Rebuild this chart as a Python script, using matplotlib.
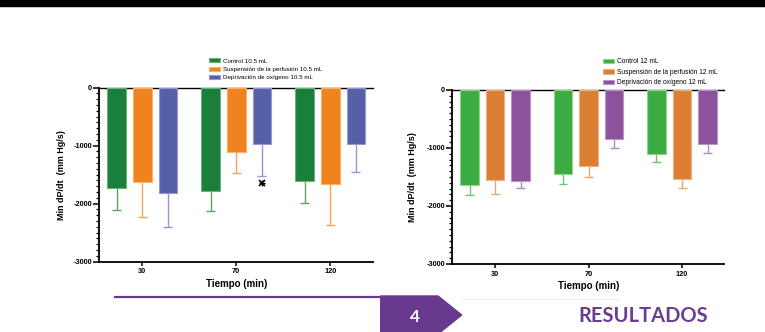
import matplotlib
matplotlib.use("Agg")
import matplotlib.pyplot as plt
from matplotlib.patches import Polygon, Rectangle
from matplotlib.lines import Line2D
from matplotlib.ticker import MultipleLocator
import numpy as np

W, H = 765, 332

# Data (Min dP/dt, mm Hg/s)
GROUPS = ['30', '70', '120']

LEFT_LABELS = ['Control 10.5 mL', 'Suspensión de la perfusión 10.5 mL',
               'Deprivación de oxígeno 10.5 mL']
LEFT_CONTROL = [-1735, -1790, -1615]
LEFT_CONTROL_ERR = [380, 335, 370]
LEFT_SUSP = [-1630, -1115, -1655]
LEFT_SUSP_ERR = [598, 362, 717]
LEFT_DEPR = [-1820, -970, -970]
LEFT_DEPR_ERR = [587, 552, 483]
LEFT_STAR_GROUP = 1
LEFT_STAR_Y = -1640

RIGHT_LABELS = ['Control 12 mL', 'Suspensión de la perfusión 12 mL',
                'Deprivación de oxígeno 12 mL']
RIGHT_CONTROL = [-1630, -1445, -1105]
RIGHT_CONTROL_ERR = [178, 183, 144]
RIGHT_SUSP = [-1555, -1315, -1530]
RIGHT_SUSP_ERR = [236, 178, 166]
RIGHT_DEPR = [-1570, -845, -925]
RIGHT_DEPR_ERR = [126, 161, 161]

LEFT_COLORS = ['#1a7f3b', '#f0831f', '#5660a9']
LEFT_EDGES = ['#6db07c', '#f7b26a', '#9599cf']
LEFT_ERRC = ['#5fa566', '#f5a35a', '#9596d6']
RIGHT_COLORS = ['#3cab42', '#dc7f34', '#8c529c']
RIGHT_EDGES = ['#8fd292', '#eab184', '#bb93c6']
RIGHT_ERRC = ['#6cc472', '#eba572', '#b487c4']

FONT = 'Liberation Sans'
plt.rcParams['font.family'] = [FONT, 'DejaVu Sans']


def px_rect(x0, ytop, x1, ybot):
    return [x0 / W, 1 - ybot / H, (x1 - x0) / W, (ybot - ytop) / H]


def draw_panel(fig, rect, series, errs, labels, colors, edges, errc,
               xlim, ylab_x, xlab_y, leg_xy, leg_fs, leg_sp):
    ax = fig.add_axes(rect)
    x = np.arange(len(GROUPS))
    width = 0.199
    offset = 0.273
    cap = 0.048
    for i, (vals, err) in enumerate(zip(series, errs)):
        pos = x + (i - 1) * offset
        vals = np.asarray(vals, dtype=float)
        low = vals - np.asarray(err, dtype=float)
        ax.bar(pos, vals, width=width, color=colors[i], edgecolor=edges[i],
               linewidth=0.8, label=labels[i], zorder=3)
        # one-sided error bars (away from zero)
        ax.vlines(pos, low, vals, colors=errc[i], linewidth=1.0, zorder=2)
        ax.hlines(low, pos - cap, pos + cap, colors=errc[i], linewidth=1.0,
                  zorder=2)
    ax.set_xlim(*xlim)
    ax.set_ylim(-3000, 0)
    ax.set_xticks(x)
    ax.set_xticklabels(GROUPS)
    ax.yaxis.set_major_locator(MultipleLocator(1000))
    ax.yaxis.set_minor_locator(MultipleLocator(100))
    ax.set_yticks([0, -1000, -2000, -3000])
    ax.set_yticklabels(['0', '-1000', '-2000', '-3000'])
    for s in ['left', 'bottom']:
        ax.spines[s].set_linewidth(1.3)
    ax.spines['top'].set_linewidth(1.0)
    ax.spines['right'].set_visible(False)
    ax.tick_params(axis='y', which='major', length=4.5, width=1.1, pad=0.6,
                   labelsize=5.3)
    ax.tick_params(axis='y', which='minor', length=2.5, width=0.9)
    ax.tick_params(axis='x', which='major', length=2.8, width=1.1, pad=2,
                   labelsize=5.3)
    for lab in ax.get_xticklabels() + ax.get_yticklabels():
        lab.set_fontweight('bold')
    ax.set_ylabel('Min dP/dt  (mm Hg/s)', fontsize=6.5, fontweight='bold')
    ax.yaxis.set_label_coords(ylab_x / W, rect[1] + rect[3] / 2,
                              transform=fig.transFigure)
    ax.set_xlabel('Tiempo (min)', fontsize=7, fontweight='bold')
    ax.xaxis.set_label_coords(rect[0] + (1 - xlim[0]) / (xlim[1] - xlim[0]) * rect[2],
                              1 - xlab_y / H, transform=fig.transFigure)
    ax.xaxis.label.set_va('center')
    ax.yaxis.label.set_va('center')
    fig.legend(*ax.get_legend_handles_labels(), loc='upper left',
               bbox_to_anchor=(leg_xy[0] / W, 1 - leg_xy[1] / H),
               bbox_transform=fig.transFigure, frameon=False, fontsize=leg_fs,
               handlelength=1.75, handleheight=0.65, handletextpad=0.45,
               labelspacing=leg_sp, borderpad=0, borderaxespad=0)
    return ax


fig = plt.figure(figsize=(W / 100, H / 100), dpi=100)

ax_l = draw_panel(fig, px_rect(99.3, 87.6, 373, 261.7),
                  [LEFT_CONTROL, LEFT_SUSP, LEFT_DEPR],
                  [LEFT_CONTROL_ERR, LEFT_SUSP_ERR, LEFT_DEPR_ERR],
                  LEFT_LABELS, LEFT_COLORS, LEFT_EDGES, LEFT_ERRC,
                  (-0.457, 2.454), 61, 284, (209, 58.3), 4.5, 0.5)
ax_l.plot([LEFT_STAR_GROUP + 0.273], [LEFT_STAR_Y], marker='x',
          ms=4, mew=1.2, color='black', zorder=4)
ax_l.plot([LEFT_STAR_GROUP + 0.273], [LEFT_STAR_Y], marker='+',
          ms=4.5, mew=1.0, color='black', zorder=4)

draw_panel(fig, px_rect(452.3, 90, 724, 264),
           [RIGHT_CONTROL, RIGHT_SUSP, RIGHT_DEPR],
           [RIGHT_CONTROL_ERR, RIGHT_SUSP_ERR, RIGHT_DEPR_ERR],
           RIGHT_LABELS, RIGHT_COLORS, RIGHT_EDGES, RIGHT_ERRC,
           (-0.457, 2.449), 412.5, 286, (602.7, 58.3), 4.8, 0.52)

# slide decoration
fig.add_artist(Rectangle((0, 1 - 5.5 / H), 1, 5.5 / H, transform=fig.transFigure,
                         color='black', zorder=10))
fig.add_artist(Line2D([0, 1], [1 - 6.3 / H] * 2, transform=fig.transFigure,
                      color='#9a9a9a', lw=0.8))
purple = '#673a8d'
fig.add_artist(Line2D([115 / W, 381 / W], [1 - 296.7 / H] * 2,
                      transform=fig.transFigure, color=purple, lw=1.6))
fig.add_artist(Line2D([462 / W, 620 / W], [1 - 299 / H] * 2,
                      transform=fig.transFigure, color='#f0f0f0', lw=0.8))
pent = [(380.7, 296), (438, 296), (461.7, 315), (438, 334), (380.7, 334)]
fig.add_artist(Polygon([(px / W, 1 - py / H) for px, py in pent], closed=True,
                       transform=fig.transFigure, color=purple))
fig.text(415 / W, 1 - 316.5 / H, '4', color='white', fontsize=12.5,
         family='Lato', fontweight='bold', ha='center', va='center')
fig.text(643.5 / W, 1 - 315.5 / H, 'RESULTADOS', color='#6a3d91', fontsize=14.5,
         family='Lato', fontweight='bold', ha='center', va='center')

fig.savefig('out.png', dpi=100)
